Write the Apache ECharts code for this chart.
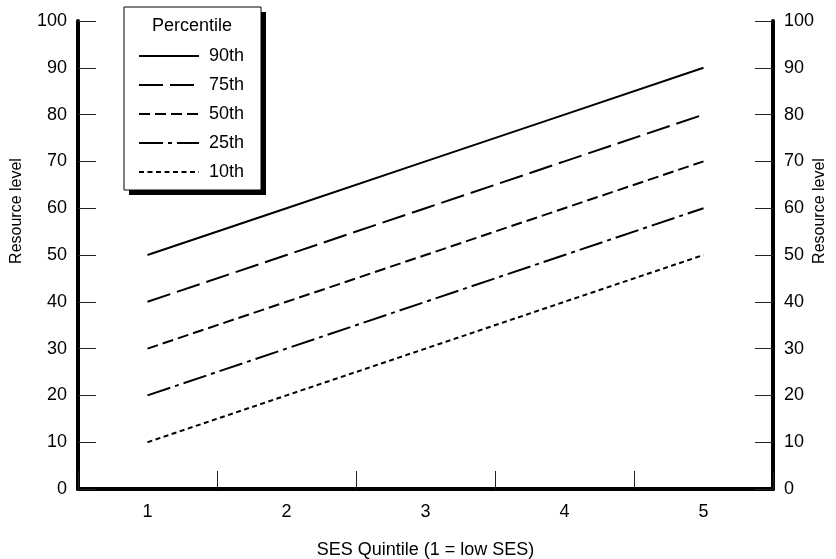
<!DOCTYPE html>
<html>
<head>
<meta charset="utf-8">
<script src="https://cdn.jsdelivr.net/npm/echarts@6/dist/echarts.min.js"></script>
<style>html,body{margin:0;padding:0;background:#fff;overflow:hidden;width:836px;height:559px}#c{position:absolute;left:0;top:0;width:836px;height:559px}</style>
</head>
<body>
<div id="c"></div>
<script>
const categories = ['1', '2', '3', '4', '5'];
const seriesNames = ['90th', '75th', '50th', '25th', '10th'];
const p90 = [50, 60, 70, 80, 90];
const p75 = [40, 50, 60, 70, 80];
const p50 = [30, 40, 50, 60, 70];
const p25 = [20, 30, 40, 50, 60];
const p10 = [10, 20, 30, 40, 50];
const seriesValues = [p90, p75, p50, p25, p10];
const dashTypes = ['solid', [24, 7], [11, 5], [24, 5, 4, 5], [5, 3.5]];
const xTitle = 'SES Quintile (1 = low SES)';
const yTitle = 'Resource level';
const legendTitle = 'Percentile';

const FONT = '"Liberation Sans", Arial, sans-serif';
const FS = 18;
const chart = echarts.init(document.getElementById('c'), null, {renderer: 'canvas', width: 836, height: 559});

const yAxisBase = {
  type: 'value', min: 0, max: 100, interval: 10,
  axisLine: {show: true, lineStyle: {color: '#000', width: 4}},
  axisTick: {show: true, inside: true, length: 18, lineStyle: {color: '#222', width: 1}},
  axisLabel: {fontFamily: FONT, fontSize: FS, color: '#000', margin: 11},
  splitLine: {show: false}
};

chart.setOption({
  animation: false,
  backgroundColor: '#fff',
  grid: {left: 78, width: 695, top: 21, height: 468, containLabel: false, outerBoundsMode: 'none'},
  xAxis: [{
    type: 'category', data: categories, boundaryGap: true,
    name: xTitle, nameLocation: 'middle', nameGap: 52,
    nameTextStyle: {fontFamily: FONT, fontSize: FS, color: '#000'},
    axisLine: {lineStyle: {color: '#000', width: 4}},
    axisTick: {show: true, inside: true, length: 18, interval: 0, alignWithLabel: false, lineStyle: {color: '#222', width: 1}},
    axisLabel: {fontFamily: FONT, fontSize: FS, color: '#000', margin: 14},
    splitLine: {show: false}
  }, {
    type: 'category', data: categories, position: 'top', boundaryGap: true,
    axisLine: {lineStyle: {color: '#000', width: 1}},
    axisTick: {show: false}, axisLabel: {show: false}
  }],
  yAxis: [
    Object.assign({}, yAxisBase, {position: 'left'}),
    Object.assign({}, yAxisBase, {position: 'right'})
  ],
  legend: {
    orient: 'vertical', left: 138, top: 47, z: 10, padding: 0,
    itemWidth: 60, itemHeight: 18, itemGap: 11,
    data: seriesNames,
    itemStyle: {opacity: 0, borderWidth: 0},
    textStyle: {fontFamily: FONT, fontSize: FS, color: '#000', padding: [0, 0, 0, 5]},
    inactiveColor: '#000'
  },
  graphic: [
    {type: 'rect', z: 8, shape: {x: 129, y: 12, width: 137, height: 183}, style: {fill: '#000'}},
    {type: 'rect', z: 9, shape: {x: 124, y: 7, width: 137, height: 183}, style: {fill: '#fff', stroke: '#000', lineWidth: 1}},
    {type: 'text', z: 10, x: 192, y: 26, style: {text: legendTitle, font: FS + 'px ' + FONT, fill: '#000', align: 'center', verticalAlign: 'middle'}},
    {type: 'text', z: 10, x: 17, y: 211, rotation: Math.PI / 2, style: {text: yTitle, font: '16px ' + FONT, fill: '#000', align: 'center', verticalAlign: 'middle'}},
    {type: 'text', z: 10, x: 820, y: 211, rotation: Math.PI / 2, style: {text: yTitle, font: '16px ' + FONT, fill: '#000', align: 'center', verticalAlign: 'middle'}}
  ],
  series: seriesNames.map((n, i) => ({
    name: n, type: 'line', data: seriesValues[i],
    symbol: 'none', showSymbol: false,
    lineStyle: {color: '#000', width: 2, type: dashTypes[i]},
    itemStyle: {color: '#000'}
  }))
});
</script>
</body>
</html>
